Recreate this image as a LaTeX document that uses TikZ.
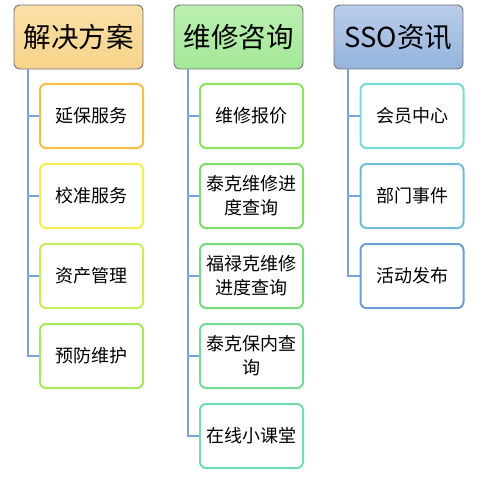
\documentclass[tikz,border=0pt]{standalone}
\usepackage{fontspec}
\setmainfont{Noto Sans CJK SC}
\begin{document}
\begin{tikzpicture}[x=1pt,y=-1pt,
  hdr/.style={draw=black!55,line width=0.9pt,rounded corners=6pt,minimum width=129pt,minimum height=64pt,inner sep=0pt,font=\fontsize{27.5}{30}\selectfont},
  kid/.style={draw=#1,fill=white,line width=2pt,rounded corners=6pt,minimum width=103pt,minimum height=64pt,inner sep=0pt,align=center,font=\fontsize{18}{24}\selectfont},
  conn/.style={draw=connblue,line width=2pt}]
\definecolor{connblue}{HTML}{7BA3D8}
\definecolor{hoA}{HTML}{FADFA8}\definecolor{hoB}{HTML}{F7D48A}
\definecolor{hgA}{HTML}{BBEFB2}\definecolor{hgB}{HTML}{A3E898}
\definecolor{hbA}{HTML}{BACDE9}\definecolor{hbB}{HTML}{95B3DD}
\definecolor{k11}{HTML}{F5BE45}\definecolor{k12}{HTML}{F5EE50}
\definecolor{k13}{HTML}{C5EE5A}\definecolor{k14}{HTML}{A8E65A}
\definecolor{k21}{HTML}{8EE25E}\definecolor{k22}{HTML}{7EDE68}
\definecolor{k23}{HTML}{76DC7C}\definecolor{k24}{HTML}{72DC96}
\definecolor{k25}{HTML}{72DCB0}
\definecolor{k31}{HTML}{78DCD6}\definecolor{k32}{HTML}{6EBCD8}
\definecolor{k33}{HTML}{6C9ED2}
\useasboundingbox (0,0) rectangle (484,484);
% headers
\node[hdr,top color=hoA,bottom color=hoB] (h1) at (78.5,37) {解决方案};
\node[hdr,top color=hgA,bottom color=hgB] (h2) at (238.5,37) {维修咨询};
\node[hdr,top color=hbA,bottom color=hbB] (h3) at (398.5,37) {SSO资讯};
\coordinate (v1) at (28,69);
\coordinate (v2) at (188,69);
\coordinate (v3) at (348,69);
% column 1
\node[kid=k11] (c11) at (91.5,116) {延保服务};
\node[kid=k12] (c12) at (91.5,196) {校准服务};
\node[kid=k13] (c13) at (91.5,276) {资产管理};
\node[kid=k14] (c14) at (91.5,356) {预防维护};
% column 2
\node[kid=k21] (c21) at (251.5,116) {维修报价};
\node[kid=k22] (c22) at (251.5,196) {泰克维修进\\度查询};
\node[kid=k23] (c23) at (251.5,276) {福禄克维修\\进度查询};
\node[kid=k24] (c24) at (251.5,356) {泰克保内查\\询};
\node[kid=k25] (c25) at (251.5,436) {在线小课堂};
% column 3
\node[kid=k31] (c31) at (412,116) {会员中心};
\node[kid=k32] (c32) at (412,196) {部门事件};
\node[kid=k33] (c33) at (412,276) {活动发布};
% connectors
\foreach \c in {c11,c12,c13,c14} \draw[conn] (v1) |- (\c.west);
\foreach \c in {c21,c22,c23,c24,c25} \draw[conn] (v2) |- (\c.west);
\foreach \c in {c31,c32,c33} \draw[conn] (v3) |- (\c.west);
\end{tikzpicture}
\end{document}
